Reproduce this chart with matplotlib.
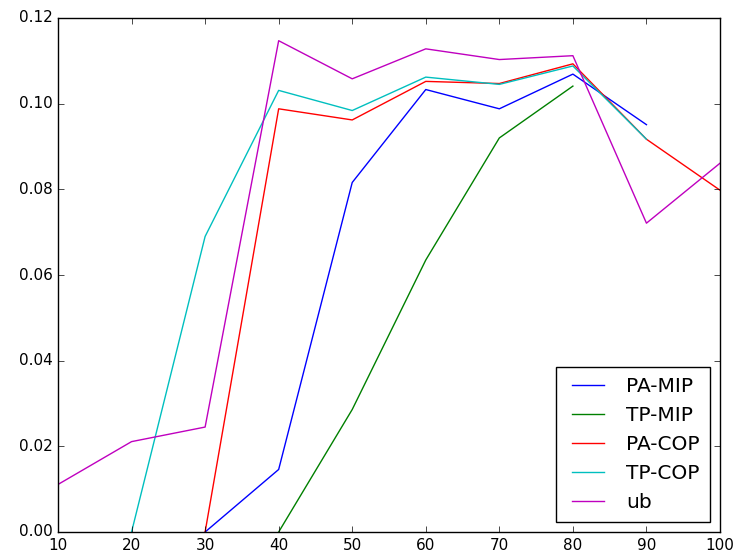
import matplotlib
matplotlib.use("Agg")
import matplotlib.pyplot as plt

# x positions of each series
x_pa_mip = [30, 40, 50, 60, 70, 80, 90]
x_tp_mip = [40, 50, 60, 70, 80]
x_pa_cop = [30, 40, 50, 60, 70, 80, 90, 100]
x_tp_cop = [20, 30, 40, 50, 60, 70, 80, 90]
x_ub = [10, 20, 30, 40, 50, 60, 70, 80, 90, 100]

# y values
pa_mip = [0.0, 0.0146, 0.0816, 0.1033, 0.0988, 0.1069, 0.0951]
tp_mip = [0.0, 0.0286, 0.0635, 0.0920, 0.1041]
pa_cop = [0.0, 0.0988, 0.0962, 0.1052, 0.1047, 0.1093, 0.0917, 0.0798]
tp_cop = [0.0, 0.0690, 0.1031, 0.0984, 0.1062, 0.1045, 0.1088, 0.0917]
ub = [0.0111, 0.0211, 0.0245, 0.1147, 0.1058, 0.1128, 0.1103, 0.1112, 0.0721, 0.0861]

plt.style.use("classic")
plt.rcParams["font.size"] = 11

fig = plt.figure(figsize=(7.41, 5.58), dpi=100, facecolor="white")
ax = fig.add_axes([58 / 741, 26 / 558, 662 / 741, 514 / 558])

ax.plot(x_pa_mip, pa_mip, color="b", label="PA-MIP")
ax.plot(x_tp_mip, tp_mip, color="g", label="TP-MIP")
ax.plot(x_pa_cop, pa_cop, color="r", label="PA-COP")
ax.plot(x_tp_cop, tp_cop, color="c", label="TP-COP")
ax.plot(x_ub, ub, color="m", label="ub")

ax.set_xlim(10, 100)
ax.set_ylim(0, 0.12)
ax.set_xticks(range(10, 101, 10))
ax.set_yticks([0.0, 0.02, 0.04, 0.06, 0.08, 0.10, 0.12])
ax.set_yticklabels(["0.00", "0.02", "0.04", "0.06", "0.08", "0.10", "0.12"])

ax.legend(loc="lower right", fontsize=14.5, handlelength=2.2, borderpad=0.5)

fig.savefig("out.png", dpi=100, facecolor="white")
